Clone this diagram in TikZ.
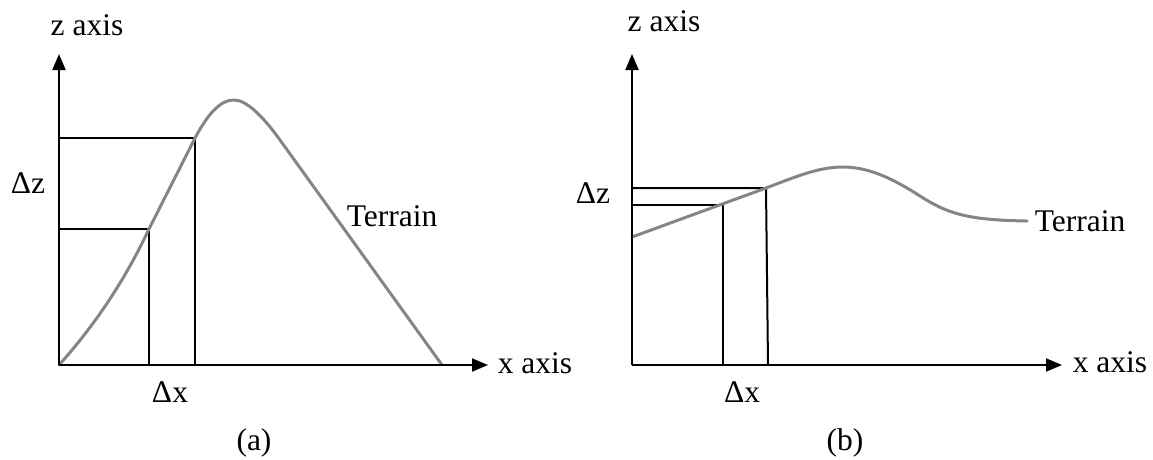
\documentclass[tikz,border=0pt]{standalone}
\usepackage{fontspec}
\setmainfont{Liberation Serif}
\usetikzlibrary{arrows.meta}
\begin{document}
\begin{tikzpicture}[x=1pt,y=-1pt,
  axis/.style={line width=2pt,-{Triangle[length=16pt,width=13pt]}},
  guide/.style={line width=2pt},
  terrain/.style={line width=3pt,color=terraingray,line cap=round,line join=round},
  lbl/.style={inner sep=0pt,anchor=base,font=\fontsize{31.5}{36}\selectfont}]
\definecolor{terraingray}{HTML}{858585}
\useasboundingbox (0,0) rectangle (1153,459);
% ---------- (a) ----------
\coordinate (Oa) at (59,365);
\coordinate (ZTa) at (59,54);
\coordinate (XTa) at (488,365);
\coordinate (Aza) at (59,138);
\coordinate (Ara) at (195,138);
\coordinate (Arb) at (195,365);
\coordinate (Bza) at (59,229);
\coordinate (Bra) at (149,229);
\coordinate (Brb) at (149,365);
\coordinate (Pka) at (234,100);
\coordinate (Da) at (280,140);
\coordinate (Ea) at (442,365);
\draw[guide] (Aza) -- (Ara) -- (Arb);
\draw[guide] (Bza) -- (Bra) -- (Brb);
\draw[terrain] (Oa) .. controls (95,325) and (125,280) .. (Bra) -- (Ara)
  .. controls (210,110) and (222,100) .. (Pka)
  .. controls (246,100) and (262,115) .. (Da) -- (Ea);
\draw[axis] (Oa) -- (ZTa);
\draw[axis] (Oa) -- (XTa);
\node[lbl] (za) at (87,35) {z axis};
\node[lbl] (xa) at (535,373) {x axis};
\node[lbl] (dza) at (28,193) {Δz};
\node[lbl] (dxa) at (170,402) {Δx};
\node[lbl] (ta) at (392,226) {Terrain};
\node[lbl] (capa) at (254,450) {(a)};
% ---------- (b) ----------
\coordinate (Ob) at (632,365);
\coordinate (ZTb) at (632,54);
\coordinate (XTb) at (1062,365);
\coordinate (Azb) at (632,188);
\coordinate (Arc) at (766,188);
\coordinate (Ard) at (768,365);
\coordinate (Bzb) at (632,205);
\coordinate (Brc) at (723,205);
\coordinate (Brd) at (723,365);
\coordinate (Sb) at (632,237);
\coordinate (Pkb) at (843,167);
\coordinate (Mb) at (920,196);
\coordinate (Eb) at (1027,221);
\draw[guide] (Azb) -- (Arc) -- (Ard);
\draw[guide] (Bzb) -- (Brc) -- (Brd);
\draw[terrain] (Sb) -- (Arc)
  .. controls (800,175) and (820,167) .. (Pkb)
  .. controls (870,167) and (895,180) .. (Mb)
  .. controls (948,214) and (968,220) .. (Eb);
\draw[axis] (Ob) -- (ZTb);
\draw[axis] (Ob) -- (XTb);
\node[lbl] (zb) at (664,31) {z axis};
\node[lbl] (xb) at (1110,372) {x axis};
\node[lbl] (dzb) at (593,203) {Δz};
\node[lbl] (dxb) at (742,402) {Δx};
\node[lbl] (tb) at (1080,231) {Terrain};
\node[lbl] (capb) at (845,450) {(b)};
\end{tikzpicture}
\end{document}
